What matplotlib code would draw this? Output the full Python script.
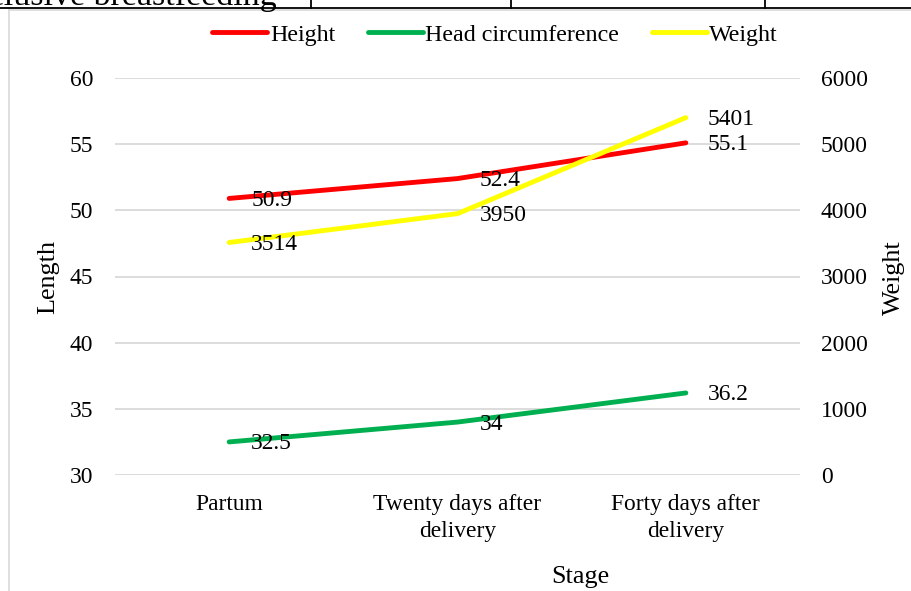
import matplotlib
matplotlib.use("Agg")
import matplotlib.pyplot as plt
from matplotlib.lines import Line2D

plt.rcParams['font.family'] = ['Liberation Serif', 'DejaVu Serif']

# ---- data ----
stages = ["Partum", "Twenty days after\ndelivery", "Forty days after\ndelivery"]
height = [50.9, 52.4, 55.1]
head_circ = [32.5, 34, 36.2]
weight = [3514, 3950, 5401]
length_ticks = [30, 35, 40, 45, 50, 55, 60]
weight_ticks = [0, 1000, 2000, 3000, 4000, 5000, 6000]

W, H = 912, 591
DPI = 100
FS = 16.9
FS_TITLE = 18.8
FS_LEG = 17.3

fig = plt.figure(figsize=(W / DPI, H / DPI), dpi=DPI)

def fx(px):
    return px / W

def fy(py):
    return 1 - py / H

# plot area
left, right, top, bottom = 115, 800, 78, 475
ax = fig.add_axes([fx(left), fy(bottom), fx(right - left), (bottom - top) / H])
ax2 = ax.twinx()

x = list(range(len(stages)))
red, green, yellow = "#ff0000", "#00b050", "#ffff00"
lw = 3.5

ax.plot(x, height, color=red, lw=lw, solid_capstyle='round', zorder=3)
ax.plot(x, head_circ, color=green, lw=lw, solid_capstyle='round', zorder=3)
ax2.plot(x, weight, color=yellow, lw=lw, solid_capstyle='round', zorder=3)

ax.set_xlim(-0.5, len(stages) - 0.5)
ax.set_ylim(30, 60)
ax2.set_ylim(0, 6000)
ax.set_yticks(length_ticks)
ax2.set_yticks(weight_ticks)
ax.set_xticks(x)
ax.set_xticklabels(stages, fontsize=FS, linespacing=1.4)
ax.tick_params(axis='x', length=0, pad=13.5)
ax.tick_params(axis='y', length=0, pad=15.5, labelsize=FS)
ax2.tick_params(axis='y', length=0, pad=15, labelsize=FS)

ax.grid(axis='y', color='#d9d9d9', lw=1.3, zorder=0)
ax.set_axisbelow(True)
for a in (ax, ax2):
    for s in a.spines.values():
        s.set_visible(False)

# data labels
def label(a, xs, ys):
    for xi, yi in zip(xs, ys):
        txt = f"{yi:g}"
        a.annotate(txt, (xi, yi), xytext=(22, -2), textcoords='offset pixels',
                   ha='left', va='center', fontsize=FS, zorder=4)

label(ax, x, height)
label(ax, x, head_circ)
label(ax2, x, weight)

# axis titles
fig.text(fx(48), fy(277), "Length", rotation=90, ha='center', va='center', fontsize=FS_TITLE)
fig.text(fx(894), fy(278), "Weight", rotation=90, ha='center', va='center', fontsize=FS_TITLE)
fig.text(fx(580), fy(577), "Stage", ha='center', va='center', fontsize=FS_TITLE)

# legend
handles = [Line2D([], [], color=red, lw=lw, solid_capstyle='round'),
           Line2D([], [], color=green, lw=lw, solid_capstyle='round'),
           Line2D([], [], color=yellow, lw=lw, solid_capstyle='round')]
fig.legend(handles, ["Height", "Head circumference", "Weight"], loc='center',
           bbox_to_anchor=(fx(495), fy(35)), ncol=3, frameon=False, fontsize=FS_LEG,
           handlelength=2.3, handletextpad=0.1, columnspacing=1.35, borderpad=0)

# chart border (light gray)
fig.add_artist(Line2D([fx(9), fx(W)], [fy(10), fy(10)], color='#d9d9d9', lw=1.2))
fig.add_artist(Line2D([fx(9), fx(9)], [fy(10), fy(H)], color='#d9d9d9', lw=1.2))

# fragment of table above
fig.add_artist(Line2D([0, 1], [fy(8), fy(8)], color='black', lw=1.3))
for vx in (311, 511, 765):
    fig.add_artist(Line2D([fx(vx), fx(vx)], [fy(0), fy(8)], color='black', lw=1.3))
fig.text(fx(277), fy(5), "Exclusive breastfeeding", ha='right', va='baseline', fontsize=24.5)

fig.savefig("out.png", dpi=DPI)
